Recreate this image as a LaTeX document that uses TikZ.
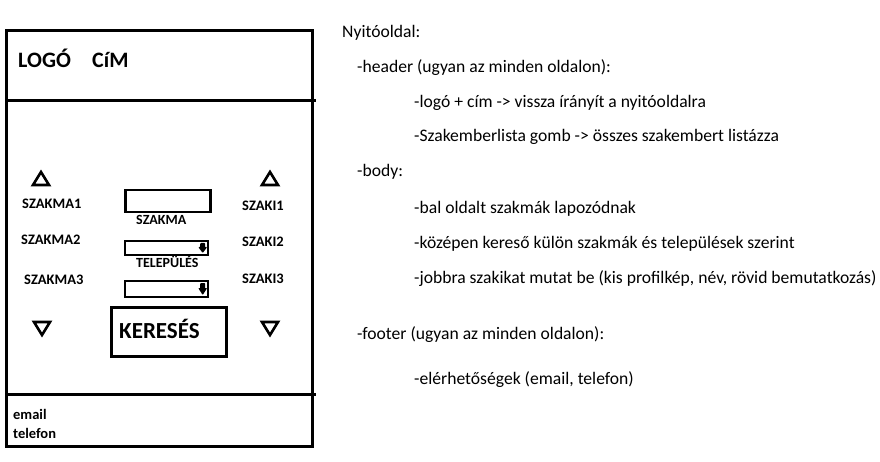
\documentclass[tikz,border=0pt]{standalone}
\usepackage{fontspec}
\setmainfont{Carlito}
\begin{document}
\begin{tikzpicture}[x=1pt,y=-1pt,
  frame/.style={line width=3pt},
  field/.style={draw,line width=2.4pt,inner sep=0pt},
  lbl/.style={font=\bfseries\fontsize{14.5}{16}\selectfont,anchor=base west,inner sep=0pt},
  note/.style={font=\fontsize{17.6}{20}\selectfont,anchor=base west,inner sep=0pt},
  tri/.style={line width=2.6pt,line join=miter},
  droparrow/.style={fill=black,rounded corners=0.8pt}]
\useasboundingbox (0,0) rectangle (880,462);

% page frame with header and footer bands
\draw[frame] (6,31) rectangle (312,446);
\draw[frame] (5,101) -- (316,101);
\draw[frame] (5,394) -- (316,394);

% header
\node[font=\bfseries\fontsize{22}{26}\selectfont,anchor=base west,inner sep=0pt] (logo) at (18,68) {LOGÓ};
\node[font=\bfseries\fontsize{22}{26}\selectfont,anchor=base west,inner sep=0pt] (cim) at (92,68) {CíM};

% paging triangles
\draw[tri] (33,185) -- (41,172) -- (49,185) -- cycle;
\draw[tri] (262,185) -- (270,172) -- (278,185) -- cycle;
\draw[tri] (34,322) -- (42,335) -- (50,322) -- cycle;
\draw[tri] (262,322) -- (270,335) -- (278,322) -- cycle;

% trades on the left
\node[lbl] (sz1) at (22,209) {SZAKMA1};
\node[lbl] (sz2) at (21,244) {SZAKMA2};
\node[lbl] (sz3) at (24,284) {SZAKMA3};

% specialists on the right
\node[lbl] (sk1) at (242,211) {SZAKI1};
\node[lbl] (sk2) at (242,247) {SZAKI2};
\node[lbl] (sk3) at (242,283) {SZAKI3};

% search fields
\node[field,minimum width=85pt,minimum height=22pt] (f1) at (168,201) {};
\node[lbl,font=\bfseries\fontsize{14}{16}\selectfont] (fl1) at (136,225) {SZAKMA};
\node[field,minimum width=83pt,minimum height=14pt] (f2) at (166.5,248) {};
\node[lbl,font=\bfseries\fontsize{14}{16}\selectfont] (fl2) at (136,268) {TELEPÜLÉS};
\node[field,minimum width=83pt,minimum height=16pt] (f3) at (166.5,289) {};

% dropdown arrows (stem above, head pointing down)
\fill[droparrow] ([xshift=-9pt,yshift=5pt]f2.east) rectangle ([xshift=-4pt,yshift=0pt]f2.east);
\fill[droparrow] ([xshift=-11pt,yshift=1pt]f2.east) -- ([xshift=-2pt,yshift=1pt]f2.east) -- ([xshift=-6.5pt,yshift=-5pt]f2.east) -- cycle;
\fill[droparrow] ([xshift=-9pt,yshift=6pt]f3.east) rectangle ([xshift=-4pt,yshift=0pt]f3.east);
\fill[droparrow] ([xshift=-11pt,yshift=1pt]f3.east) -- ([xshift=-2pt,yshift=1pt]f3.east) -- ([xshift=-6.5pt,yshift=-6pt]f3.east) -- cycle;

% search button
\node[field,line width=2.6pt,minimum width=115pt,minimum height=49pt] (btn) at (169,332) {};
\node[font=\bfseries\fontsize{23}{27}\selectfont,anchor=base west,inner sep=0pt] (btnl) at (119,338) {KERESÉS};

% footer
\node[lbl] (email) at (13,419) {email};
\node[lbl] (tel) at (13,438) {telefon};

% description
\node[note] (t0) at (342,38) {Nyitóoldal:};
\node[note] (t1) at (357,73) {-header (ugyan az minden oldalon):};
\node[note] (t2) at (414,108) {-logó + cím -> vissza írányít a nyitóoldalra};
\node[note] (t3) at (414,142) {-Szakemberlista gomb -> összes szakembert listázza};
\node[note] (t4) at (357,177) {-body:};
\node[note] (t5) at (414,214) {-bal oldalt szakmák lapozódnak};
\node[note] (t6) at (414,249) {-középen kereső külön szakmák és települések szerint};
\node[note] (t7) at (414,283) {-jobbra szakikat mutat be (kis profilkép, név, rövid bemutatkozás)};
\node[note] (t8) at (357,339) {-footer (ugyan az minden oldalon):};
\node[note] (t9) at (414,384) {-elérhetőségek (email, telefon)};
\end{tikzpicture}
\end{document}
